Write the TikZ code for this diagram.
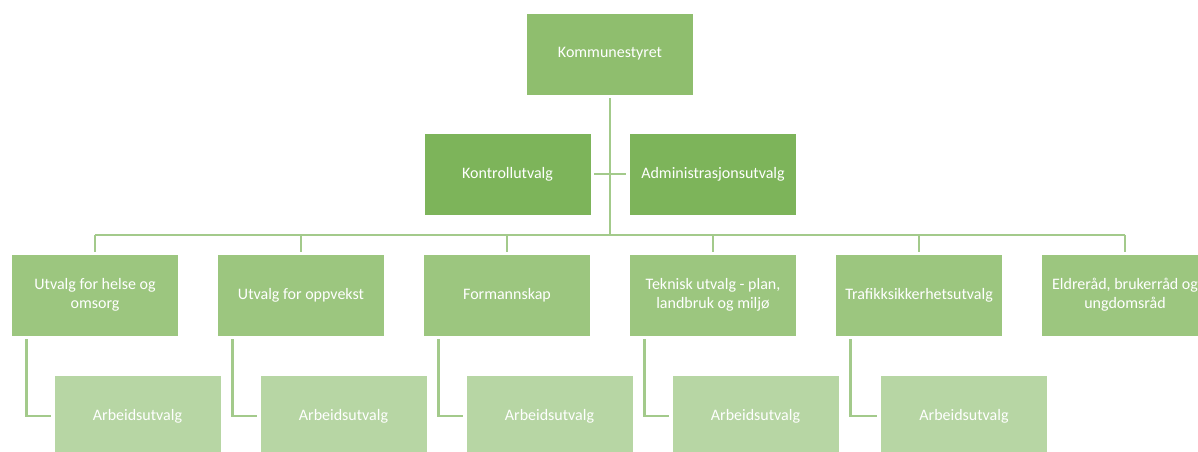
\documentclass[tikz,border=0pt]{standalone}
\usepackage{fontspec}
\setmainfont{Carlito}
\usetikzlibrary{positioning}
\definecolor{TopGreen}{HTML}{8FBE6E}
\definecolor{DarkGreen}{HTML}{7DB45A}
\definecolor{MidGreen}{HTML}{9CC67F}
\definecolor{PaleGreen}{HTML}{B7D6A4}
\definecolor{LineGreen}{HTML}{A3CA8B}

\begin{document}
\begin{tikzpicture}[x=0.75pt,y=-0.75pt,
  box/.style={draw=white,line width=.6pt,text=white,font=\fontsize{12}{14.5}\selectfont,
    align=center,minimum width=125.25pt,minimum height=61.5pt,inner sep=2pt},
  link/.style={LineGreen,line width=2.2pt}]
  \useasboundingbox (0,0) rectangle (1198,452);
  % top of the tree
  \node[box,fill=TopGreen] (komm) at (610,54) {Kommunestyret};
  \node[box,fill=DarkGreen] (kontroll) at (507.5,174) {Kontrollutvalg};
  \node[box,fill=DarkGreen] (admin) at (713,174) {Administrasjonsutvalg};
  \coordinate (bus) at (610,235);
  % committees
  \node[box,fill=MidGreen] (u1) at (95,295) {Utvalg for helse og\\omsorg};
  \node[box,fill=MidGreen] (u2) at (301,295) {Utvalg for oppvekst};
  \node[box,fill=MidGreen] (u3) at (507,295) {Formannskap};
  \node[box,fill=MidGreen] (u4) at (713,295) {Teknisk utvalg - plan,\\landbruk og miljø};
  \node[box,fill=MidGreen] (u5) at (919,295) {Trafikksikkerhetsutvalg};
  \node[box,fill=MidGreen] (u6) at (1125,295) {Eldreråd, brukerråd og\\ungdomsråd};
  % working groups
  \node[box,fill=PaleGreen] (a1) at (137.5,416) {Arbeidsutvalg};
  \node[box,fill=PaleGreen] (a2) at (343.5,416) {Arbeidsutvalg};
  \node[box,fill=PaleGreen] (a3) at (549.5,416) {Arbeidsutvalg};
  \node[box,fill=PaleGreen] (a4) at (755.5,416) {Arbeidsutvalg};
  \node[box,fill=PaleGreen] (a5) at (964,416) {Arbeidsutvalg};
  % connectors
  \draw[link,shorten <=2pt] (komm.south) -- (bus);
  \draw[link,shorten <=2pt,shorten >=2pt] (kontroll.east) -- (admin.west);
  \draw[link] (u1.north |- bus) -- (u6.north |- bus);
  \foreach \u in {u1,u2,u3,u4,u5,u6}
    \draw[link,shorten >=1pt] (\u.north |- bus) -- (\u.north);
  \foreach \u/\a in {u1/a1,u2/a2,u3/a3,u4/a4,u5/a5}
    \draw[link,shorten <=2pt,shorten >=2pt] ([xshift=11.25pt]\u.south west) |- (\a.west);
\end{tikzpicture}
\end{document}
